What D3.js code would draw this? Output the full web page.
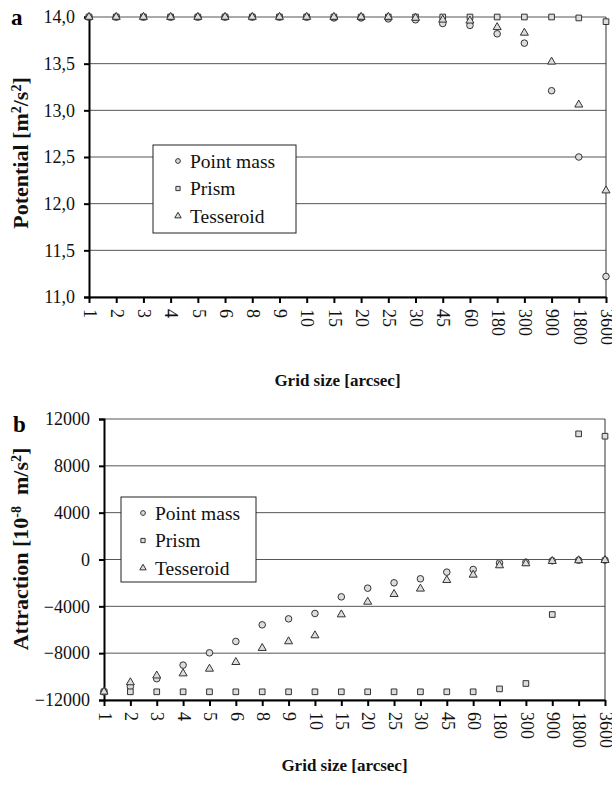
<!DOCTYPE html>
<html>
<head>
<meta charset="utf-8">
<script src="https://cdn.jsdelivr.net/npm/d3@7"></script>
<style>
  body { margin: 0; background: #fff; }
  svg { display: block; }
  svg text { font-family: "Liberation Serif", "Times New Roman", "DejaVu Serif", serif; }
  .grid line { stroke: #555; stroke-width: 1; }
  .tick-label { font-size: 18px; fill: #111; }
  .axis-title { font-size: 17px; font-weight: bold; fill: #111; }
  .legend-text { font-size: 19.5px; fill: #111; }
</style>
</head>
<body>
<svg id="chart" width="612" height="794"></svg>
<script>
var svg = d3.select('#chart');

// grid sizes in arcsec
var gridSizes = ['1', '2', '3', '4', '5', '6', '8', '9', '10', '15', '20', '25', '30', '45', '60', '180', '300', '900', '1800', '3600'];

// panel a: potential [m2/s2]
var potPointMass = [14.0, 14.0, 14.0, 14.0, 14.0, 14.0, 14.0, 14.0, 14.0, 13.99, 13.99, 13.98, 13.97, 13.93, 13.91, 13.82, 13.72, 13.21, 12.50, 11.22];
var potPrism     = [14.0, 14.0, 14.0, 14.0, 14.0, 14.0, 14.0, 14.0, 14.0, 14.0, 14.0, 14.0, 14.0, 14.0, 14.0, 14.0, 14.0, 14.0, 13.99, 13.95];
var potTesseroid = [14.0, 14.0, 14.0, 14.0, 14.0, 14.0, 14.0, 14.0, 14.0, 14.0, 14.0, 14.0, 13.99, 13.97, 13.96, 13.89, 13.83, 13.52, 13.06, 12.14];
var potTicks = [11.0, 11.5, 12.0, 12.5, 13.0, 13.5, 14.0];

// panel b: attraction [1e-8 m/s2]
var attPointMass = [-11300, -10850, -10180, -9020, -7970, -7000, -5580, -5070, -4610, -3190, -2450, -1990, -1650, -1080, -850, -290, -230, -110, -60, -50];
var attPrism     = [-11300, -11300, -11300, -11300, -11300, -11300, -11300, -11300, -11300, -11300, -11300, -11300, -11300, -11300, -11300, -11050, -10590, -4700, 10730, 10530];
var attTesseroid = [-11300, -10500, -9920, -9740, -9340, -8770, -7570, -7000, -6490, -4700, -3620, -2960, -2500, -1770, -1310, -510, -340, -140, -80, -60];
var attTicks = [-12000, -8000, -4000, 0, 4000, 8000, 12000];

var seriesNames = ['Point mass', 'Prism', 'Tesseroid'];
var symbolTypes = [d3.symbolCircle, d3.symbolSquare, d3.symbolTriangle];
var symbolSizes = [34, 32, 28];

function drawPanel(opts) {
  var x = d3.scalePoint()
            .domain(gridSizes)
            .range([opts.left, opts.right]);
  var y = d3.scaleLinear()
            .domain(opts.domain)
            .range([opts.bottom, opts.top]);

  // horizontal grid lines
  svg.append('g')
     .attr('class', 'grid')
     .selectAll('line')
     .data(opts.ticks)
     .enter()
     .append('line')
       .attr('x1', opts.left)
       .attr('x2', opts.right)
       .attr('y1', d => y(d))
       .attr('y2', d => y(d));

  // right border
  svg.append('line')
     .attr('x1', opts.right).attr('x2', opts.right)
     .attr('y1', opts.top).attr('y2', opts.bottom)
     .attr('stroke', '#333').attr('stroke-width', 1);

  // y axis
  var yAxis = d3.axisLeft(y)
                .tickValues(opts.ticks)
                .tickSize(5)
                .tickPadding(9)
                .tickFormat(opts.format);
  var gy = svg.append('g')
              .attr('transform', `translate(${opts.left},0)`)
              .call(yAxis)
              .attr('font-family', null)
              .attr('font-size', null);
  gy.select('.domain').attr('stroke', '#000').attr('stroke-width', 2);
  gy.selectAll('.tick line').attr('stroke', '#000').attr('stroke-width', 2);
  gy.selectAll('.tick text')
    .attr('class', 'tick-label')
    .attr('fill', null);

  // x axis
  var xAxis = d3.axisBottom(x)
                .tickSize(6)
                .tickSizeOuter(0);
  var gx = svg.append('g')
              .attr('transform', `translate(0,${opts.bottom})`)
              .call(xAxis)
              .attr('font-family', null)
              .attr('font-size', null);
  gx.select('.domain').attr('stroke', '#000').attr('stroke-width', 2);
  gx.selectAll('.tick line').attr('stroke', '#000').attr('stroke-width', 2);
  gx.selectAll('.tick text')
    .attr('class', 'tick-label')
    .attr('fill', null)
    .attr('transform', 'rotate(90)')
    .attr('x', 12)
    .attr('y', 0)
    .attr('dy', '0.32em')
    .attr('text-anchor', 'start');
  svg.selectAll('.domain').attr('fill', 'none');

  // data markers
  opts.series.forEach((vals, i) => {
    svg.append('g')
       .selectAll('path')
       .data(vals)
       .enter()
       .append('path')
         .attr('d', d3.symbol().type(symbolTypes[i]).size(symbolSizes[i]))
         .attr('transform', (d, j) => `translate(${x(gridSizes[j])},${y(d)})`)
         .attr('fill', '#ddd')
         .attr('stroke', '#333')
         .attr('stroke-width', 1);
  });

  // legend
  var lg = svg.append('g')
              .attr('transform', `translate(${opts.legend[0]},${opts.legend[1]})`);
  lg.append('rect')
    .attr('width', opts.legend[2])
    .attr('height', opts.legend[3])
    .attr('fill', '#fff')
    .attr('stroke', '#222')
    .attr('stroke-width', 1);
  seriesNames.forEach((name, i) => {
    var cy = 16 + i * 27.5;
    lg.append('path')
      .attr('d', d3.symbol().type(symbolTypes[i]).size(18))
      .attr('transform', `translate(${opts.legendMarkerX},${cy})`)
      .attr('fill', '#ddd')
      .attr('stroke', '#333');
    lg.append('text')
      .attr('class', 'legend-text')
      .attr('x', opts.legendMarkerX + 12)
      .attr('y', cy)
      .attr('dy', '0.35em')
      .text(name);
  });

  // axis titles
  svg.append('text')
     .attr('class', 'axis-title')
     .attr('x', (opts.left + opts.right) / 2 - 10)
     .attr('y', opts.xTitleY)
     .attr('text-anchor', 'middle')
     .text('Grid size [arcsec]');

  var yt = svg.append('text')
              .attr('class', 'axis-title')
              .style('font-size', opts.yTitleSize)
              .attr('text-anchor', 'middle')
              .attr('transform', `translate(${opts.yTitle[0]},${opts.yTitle[1]}) rotate(-90)`);
  opts.yTitleParts.forEach(p => {
    yt.append('tspan')
      .attr('baseline-shift', p.sup ? 'super' : null)
      .style('font-size', p.sup ? '14px' : null)
      .text(p.t);
  });

  svg.append('text')
     .attr('x', opts.panel[0])
     .attr('y', opts.panel[1])
     .attr('font-size', 23)
     .attr('font-weight', 'bold')
     .text(opts.panelLabel);
}

var fmtComma = d => d3.format('.1f')(d).replace('.', ',');

drawPanel({
  left: 89, right: 606, top: 17, bottom: 297,
  domain: [11, 14],
  ticks: potTicks,
  format: fmtComma,
  series: [potPointMass, potPrism, potTesseroid],
  legend: [153, 145, 143, 88],
  legendMarkerX: 25,
  xTitleY: 386,
  yTitle: [28, 153],
  yTitleSize: '22px',
  yTitleParts: [{t: 'Potential [m'}, {t: '2', sup: true}, {t: '/s'}, {t: '2', sup: true}, {t: ']'}],
  panel: [11, 25],
  panelLabel: 'a'
});

drawPanel({
  left: 104, right: 605, top: 419, bottom: 700,
  domain: [-12000, 12000],
  ticks: attTicks,
  format: d3.format('d'),
  series: [attPointMass, attPrism, attTesseroid],
  legend: [121, 497, 135, 85],
  legendMarkerX: 22,
  xTitleY: 771,
  yTitle: [28, 549],
  yTitleSize: '22px',
  yTitleParts: [{t: 'Attraction [10'}, {t: '-8', sup: true}, {t: '\u00a0 m/s'}, {t: '2', sup: true}, {t: ']'}],
  panel: [13, 432],
  panelLabel: 'b'
});
</script>
</body>
</html>
